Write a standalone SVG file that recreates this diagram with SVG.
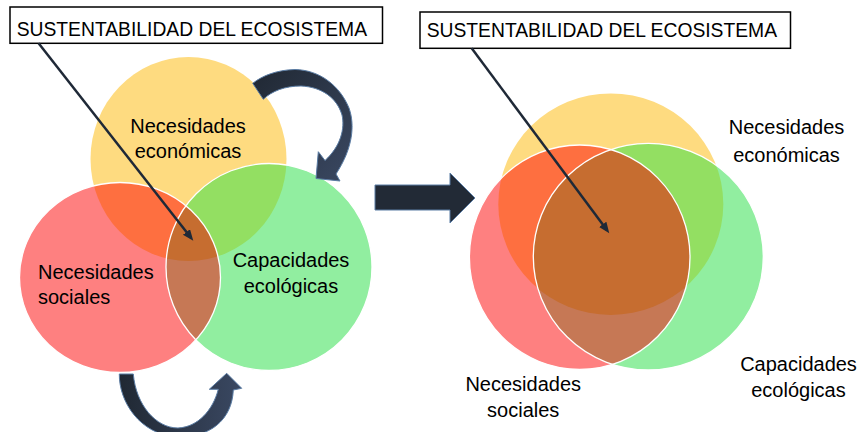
<svg xmlns="http://www.w3.org/2000/svg" width="861" height="432" viewBox="0 0 861 432">
<style>
  .lbl { font-family: "Liberation Sans", Arial, sans-serif; font-size: 20px; fill: #000; }
  .c { text-anchor: middle; }
  .ttl { font-family: "Liberation Sans", Arial, sans-serif; font-size: 19.3px; fill: #000; }
  .box { fill: #fff; stroke: #000; stroke-width: 1.5; }
  .edge { fill: none; stroke: #fff; stroke-width: 1.3; }
  .ptr { stroke: #1f2937; stroke-width: 2.5; fill: none; marker-end: url(#head); }
  .darr { stroke: #5a7ca4; stroke-width: 1; }
</style>
<defs>
  <marker id="head" markerUnits="userSpaceOnUse" markerWidth="12" markerHeight="10" refX="7" refY="4.5" orient="auto">
    <path d="M0,0 L11,4.5 L0,9 Z" fill="#1f2937"/>
  </marker>
  <linearGradient id="gTop" x1="0" y1="0" x2="1" y2="1">
    <stop offset="0" stop-color="#202833"/>
    <stop offset="1" stop-color="#3a4862"/>
  </linearGradient>
  <linearGradient id="gBot" x1="0" y1="0" x2="1" y2="0">
    <stop offset="0" stop-color="#202833"/>
    <stop offset="1" stop-color="#3a4862"/>
  </linearGradient>
  <clipPath id="cLR"><ellipse cx="120" cy="277.5" rx="100.5" ry="95"/></clipPath>
  <clipPath id="cLG"><ellipse cx="269" cy="267" rx="103" ry="103.5"/></clipPath>
  <clipPath id="cRR"><ellipse cx="579.7" cy="257.2" rx="110.3" ry="112.2"/></clipPath>
  <clipPath id="cRG"><ellipse cx="648.3" cy="256.7" rx="115" ry="113.3"/></clipPath>
</defs>

<!-- LEFT DIAGRAM -->
<g id="left-econ"><ellipse cx="188.5" cy="159" rx="98" ry="102" fill="#fedb80"/></g>
<g id="left-social"><ellipse cx="120" cy="277.5" rx="100.5" ry="95" fill="#fe8080"/></g>
<g id="left-eco"><ellipse cx="269" cy="267" rx="103" ry="103.5" fill="#91eea0"/></g>
<g id="left-overlaps">
  <ellipse cx="188.5" cy="159" rx="98" ry="102" fill="#fe6f40" clip-path="url(#cLR)"/>
  <ellipse cx="188.5" cy="159" rx="98" ry="102" fill="#93df62" clip-path="url(#cLG)"/>
  <ellipse cx="120" cy="277.5" rx="100.5" ry="95" fill="#c67855" clip-path="url(#cLG)"/>
  <g clip-path="url(#cLG)"><ellipse cx="188.5" cy="159" rx="98" ry="102" fill="#c66d30" clip-path="url(#cLR)"/></g>
  <ellipse class="edge" cx="120" cy="277.5" rx="100.5" ry="95"/>
  <ellipse class="edge" cx="269" cy="267" rx="103" ry="103.5"/>
</g>
<g id="left-econ-label">
  <text class="lbl c" x="188" y="132.7">Necesidades</text>
  <text class="lbl c" x="188" y="158.3">económicas</text>
</g>
<g id="left-social-label">
  <text class="lbl" x="38" y="279">Necesidades</text>
  <text class="lbl" x="38" y="303.5">sociales</text>
</g>
<g id="left-eco-label">
  <text class="lbl c" x="291" y="267.3">Capacidades</text>
  <text class="lbl c" x="291" y="292.7">ecológicas</text>
</g>
<g id="left-title">
  <rect class="box" x="10" y="7" width="372.5" height="36.3"/>
  <text class="ttl" x="16.7" y="36">SUSTENTABILIDAD DEL ECOSISTEMA</text>
</g>

<!-- RIGHT DIAGRAM -->
<g id="right-econ"><ellipse cx="610.8" cy="204.2" rx="112.5" ry="110.8" fill="#fedb80"/></g>
<g id="right-social"><ellipse cx="579.7" cy="257.2" rx="110.3" ry="112.2" fill="#fe8080"/></g>
<g id="right-eco"><ellipse cx="648.3" cy="256.7" rx="115" ry="113.3" fill="#91eea0"/></g>
<g id="right-overlaps">
  <ellipse cx="610.8" cy="204.2" rx="112.5" ry="110.8" fill="#fe6f40" clip-path="url(#cRR)"/>
  <ellipse cx="610.8" cy="204.2" rx="112.5" ry="110.8" fill="#93df62" clip-path="url(#cRG)"/>
  <ellipse cx="579.7" cy="257.2" rx="110.3" ry="112.2" fill="#c67855" clip-path="url(#cRG)"/>
  <g clip-path="url(#cRG)"><ellipse cx="610.8" cy="204.2" rx="112.5" ry="110.8" fill="#c66d30" clip-path="url(#cRR)"/></g>
  <ellipse class="edge" cx="579.7" cy="257.2" rx="110.3" ry="112.2"/>
  <ellipse class="edge" cx="648.3" cy="256.7" rx="115" ry="113.3"/>
</g>
<g id="right-econ-label">
  <text class="lbl c" x="786.5" y="134">Necesidades</text>
  <text class="lbl c" x="786.5" y="161.7">económicas</text>
</g>
<g id="right-eco-label">
  <text class="lbl c" x="798.5" y="370.7">Capacidades</text>
  <text class="lbl c" x="798.5" y="396.7">ecológicas</text>
</g>
<g id="right-social-label">
  <text class="lbl c" x="523.2" y="390.7">Necesidades</text>
  <text class="lbl c" x="523.2" y="417.3">sociales</text>
</g>
<g id="right-title">
  <rect class="box" x="420" y="12" width="370.5" height="36.3"/>
  <text class="ttl" x="426.7" y="37.3">SUSTENTABILIDAD DEL ECOSISTEMA</text>
</g>

<!-- CONNECTORS -->
<g id="connectors">
  <line class="ptr" x1="38.6" y1="43.3" x2="190.8" y2="237.5"/>
  <line class="ptr" x1="471.7" y1="48.3" x2="606.9" y2="230"/>
  <path class="darr" fill="url(#gTop)" d="M252.7,83.3 C262,76 276,70 295,69.5 C320,70 340,86 349,108 C355,125 353,148 336,174 L340,181 L316,178.5 L318.3,151.7 L325,160.5 C341,146 345,128 342,115 C337,98 322,87 301,86 C285,86 272,91 263.3,99.3 Z"/>
  <path class="darr" fill="url(#gBot)" d="M119.3,374 C119,402 140,434 176,437 C210,438 232,420 233.3,390 L241.7,388.3 L226.7,373.3 L209.3,389.3 L218.3,389.3 C213,410 198,427 178,428 C156,428 136,405 133.3,374 Z"/>
  <polygon class="darr" fill="#222a36" points="375,185 450,185 450,173 475,198 450,223 450,210 375,210"/>
</g>
</svg>
